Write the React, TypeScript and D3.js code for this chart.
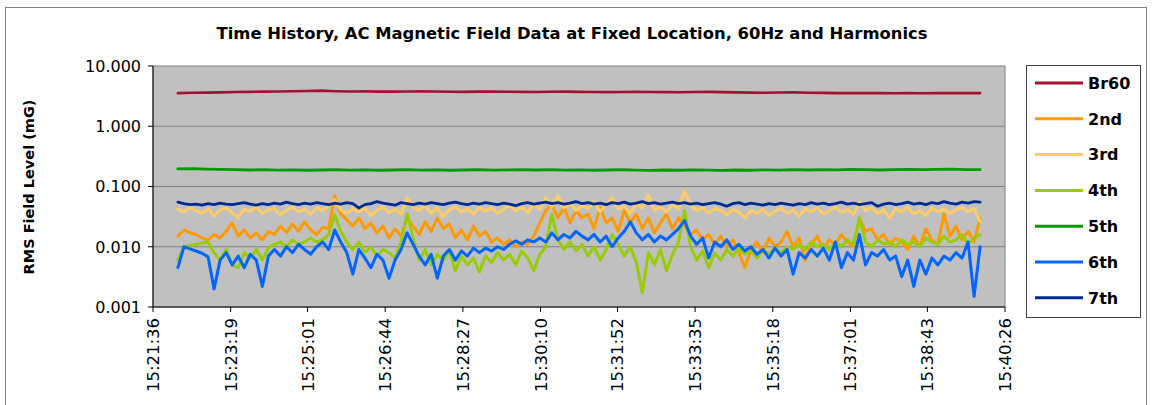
import React from "react";
import * as d3 from "d3";

const chartTitle = "Time History, AC Magnetic Field Data at Fixed Location, 60Hz and Harmonics";
const yAxisTitle = "RMS Field Level (mG)";
const yTickValues = [0.001, 0.01, 0.1, 1, 10];
const gridValues = [0.01, 0.1, 1];
const xTickLabels = [
  "15:21:36", "15:23:19", "15:25:01", "15:26:44", "15:28:27", "15:30:10",
  "15:31:52", "15:33:35", "15:35:18", "15:37:01", "15:38:43", "15:40:26",
];

// sampling of the recorded series
const fineStart = "15:22:09";
const fineStepSec = 8;
const coarseStart = "15:22:09";
const coarseStepSec = 19;

const seriesNames = ["Br60", "2nd", "3rd", "4th", "5th", "6th", "7th"];
const seriesColors = ["#A3122F", "#FF9900", "#FFCC66", "#99CC00", "#009900", "#0066FF", "#002A8F"];

// coarse sampled (57 points)
const br60 = [
  3.55, 3.60, 3.62, 3.65, 3.70, 3.72, 3.75, 3.78, 3.80, 3.85,
  3.90, 3.82, 3.78, 3.80, 3.76, 3.75, 3.78, 3.80, 3.77, 3.74,
  3.72, 3.75, 3.78, 3.74, 3.72, 3.70, 3.73, 3.76, 3.72, 3.70,
  3.68, 3.70, 3.72, 3.70, 3.68, 3.66, 3.70, 3.72, 3.68, 3.65,
  3.62, 3.60, 3.63, 3.65, 3.60, 3.58, 3.55, 3.57, 3.54, 3.56,
  3.52, 3.55, 3.53, 3.56, 3.54, 3.57, 3.55,
];
const fifth = [
  0.196, 0.198, 0.195, 0.192, 0.190, 0.188, 0.190, 0.187, 0.189, 0.186,
  0.188, 0.190, 0.187, 0.189, 0.186, 0.188, 0.191, 0.187, 0.189, 0.186,
  0.188, 0.190, 0.187, 0.189, 0.191, 0.188, 0.190, 0.187, 0.189, 0.186,
  0.188, 0.190, 0.187, 0.185, 0.188, 0.186, 0.189, 0.187, 0.185, 0.188,
  0.186, 0.189, 0.187, 0.190, 0.188, 0.191, 0.189, 0.192, 0.190, 0.188,
  0.191, 0.193, 0.190, 0.192, 0.194, 0.191, 0.190,
];

// fine sampled (134 points)
const second = [
  0.015, 0.019, 0.017, 0.016, 0.014, 0.013, 0.016, 0.014, 0.018, 0.025,
  0.015, 0.019, 0.014, 0.017, 0.013, 0.018, 0.016, 0.022, 0.017, 0.024,
  0.018, 0.026, 0.019, 0.016, 0.021, 0.020, 0.070, 0.035, 0.028, 0.022,
  0.030, 0.020, 0.025, 0.017, 0.022, 0.014, 0.020, 0.015, 0.030, 0.022,
  0.016, 0.026, 0.018, 0.030, 0.020, 0.024, 0.014, 0.019, 0.013, 0.022,
  0.015, 0.018, 0.012, 0.014, 0.011, 0.013, 0.010, 0.012, 0.011, 0.015,
  0.025, 0.040, 0.050, 0.030, 0.045, 0.025, 0.040, 0.030, 0.035, 0.020,
  0.045, 0.025, 0.030, 0.018, 0.040, 0.025, 0.035, 0.020, 0.030, 0.017,
  0.025, 0.035, 0.020, 0.030, 0.022, 0.016, 0.019, 0.013, 0.016, 0.011,
  0.015, 0.010, 0.013, 0.008, 0.0045, 0.009, 0.012, 0.008, 0.014, 0.010,
  0.012, 0.018, 0.010, 0.014, 0.006, 0.011, 0.015, 0.009, 0.013, 0.011,
  0.016, 0.012, 0.010, 0.030, 0.018, 0.020, 0.013, 0.016, 0.011, 0.014,
  0.012, 0.009, 0.015, 0.010, 0.020, 0.013, 0.011, 0.035, 0.015, 0.022,
  0.013, 0.018, 0.012, 0.030,
];
const third = [
  0.042, 0.038, 0.045, 0.040, 0.036, 0.043, 0.032, 0.041, 0.044, 0.037,
  0.030, 0.042, 0.039, 0.045, 0.036, 0.041, 0.043, 0.034, 0.040, 0.046,
  0.038, 0.042, 0.035, 0.044, 0.040, 0.047, 0.060, 0.041, 0.036, 0.043,
  0.038, 0.044, 0.033, 0.040, 0.046, 0.037, 0.042, 0.035, 0.065, 0.045,
  0.040, 0.048, 0.036, 0.044, 0.032, 0.041, 0.046, 0.038, 0.043, 0.035,
  0.045, 0.039, 0.044, 0.036, 0.042, 0.048, 0.040, 0.045, 0.037, 0.050,
  0.042, 0.065, 0.046, 0.070, 0.044, 0.052, 0.040, 0.048, 0.043, 0.055,
  0.038, 0.050, 0.065, 0.042, 0.047, 0.036, 0.052, 0.044, 0.072, 0.040,
  0.046, 0.038, 0.050, 0.042, 0.085, 0.048, 0.040, 0.045, 0.036, 0.043,
  0.040, 0.034, 0.042, 0.038, 0.030, 0.040, 0.036, 0.042, 0.033, 0.039,
  0.044, 0.036, 0.041, 0.032, 0.043, 0.038, 0.045, 0.035, 0.040, 0.046,
  0.037, 0.042, 0.034, 0.055, 0.040, 0.044, 0.036, 0.041, 0.030, 0.043,
  0.038, 0.045, 0.035, 0.040, 0.033, 0.044, 0.038, 0.042, 0.036, 0.041,
  0.045, 0.038, 0.043, 0.026,
];
const fourth = [
  0.006, 0.010, 0.0105, 0.011, 0.0115, 0.012, 0.008, 0.006, 0.009, 0.005,
  0.0045, 0.008, 0.0065, 0.009, 0.006, 0.0095, 0.011, 0.012, 0.010, 0.013,
  0.011, 0.012, 0.014, 0.012, 0.013, 0.016, 0.034, 0.018, 0.012, 0.009,
  0.012, 0.008, 0.010, 0.007, 0.009, 0.008, 0.0065, 0.012, 0.035, 0.014,
  0.006, 0.009, 0.005, 0.0075, 0.006, 0.0085, 0.004, 0.007, 0.005, 0.0065,
  0.0038, 0.007, 0.0055, 0.008, 0.006, 0.0075, 0.005, 0.0085, 0.0065, 0.004,
  0.0075, 0.010, 0.035, 0.013, 0.009, 0.012, 0.0085, 0.011, 0.007, 0.010,
  0.006, 0.009, 0.016, 0.011, 0.007, 0.010, 0.0055, 0.0017, 0.008, 0.005,
  0.009, 0.004, 0.0075, 0.012, 0.040, 0.010, 0.006, 0.0085, 0.0045, 0.008,
  0.006, 0.009, 0.007, 0.0095, 0.0075, 0.0085, 0.0065, 0.009, 0.0075, 0.0095,
  0.008, 0.010, 0.009, 0.011, 0.009, 0.012, 0.010, 0.011, 0.009, 0.012,
  0.010, 0.013, 0.011, 0.030, 0.012, 0.010, 0.013, 0.011, 0.012, 0.010,
  0.013, 0.011, 0.012, 0.010, 0.014, 0.012, 0.011, 0.015, 0.012, 0.013,
  0.016, 0.011, 0.014, 0.016,
];
const sixth = [
  0.0045, 0.010, 0.0092, 0.0085, 0.0078, 0.0068, 0.002, 0.006, 0.008, 0.005,
  0.007, 0.0045, 0.0075, 0.006, 0.0022, 0.007, 0.009, 0.007, 0.010, 0.008,
  0.011, 0.009, 0.0075, 0.010, 0.012, 0.009, 0.019, 0.012, 0.008, 0.0035,
  0.009, 0.0065, 0.0045, 0.0075, 0.006, 0.003, 0.006, 0.009, 0.017, 0.011,
  0.007, 0.005, 0.0075, 0.003, 0.007, 0.009, 0.006, 0.0085, 0.007, 0.0095,
  0.008, 0.0095, 0.0085, 0.010, 0.009, 0.011, 0.0125, 0.011, 0.013, 0.012,
  0.014, 0.012, 0.017, 0.013, 0.016, 0.014, 0.018, 0.015, 0.013, 0.016,
  0.012, 0.015, 0.010, 0.014, 0.018, 0.026, 0.017, 0.013, 0.016, 0.012,
  0.015, 0.013, 0.016, 0.020, 0.027, 0.015, 0.011, 0.014, 0.0065, 0.012,
  0.010, 0.013, 0.009, 0.011, 0.0085, 0.010, 0.0075, 0.009, 0.0065, 0.0095,
  0.007, 0.009, 0.0035, 0.008, 0.0065, 0.009, 0.007, 0.0095, 0.006, 0.012,
  0.0045, 0.008, 0.006, 0.016, 0.005, 0.008, 0.007, 0.009, 0.006, 0.007,
  0.0032, 0.006, 0.0022, 0.006, 0.0035, 0.0065, 0.005, 0.007, 0.006, 0.008,
  0.0065, 0.012, 0.0015, 0.010,
];
const seventh = [
  0.055, 0.052, 0.050, 0.051, 0.049, 0.052, 0.050, 0.053, 0.051, 0.050,
  0.052, 0.054, 0.051, 0.049, 0.052, 0.050, 0.053, 0.051, 0.055, 0.052,
  0.050, 0.053, 0.051, 0.054, 0.052, 0.050, 0.053, 0.051, 0.054, 0.052,
  0.044, 0.050, 0.052, 0.056, 0.053, 0.051, 0.049, 0.054, 0.052, 0.050,
  0.053, 0.051, 0.054, 0.052, 0.050, 0.053, 0.055, 0.052, 0.050, 0.053,
  0.051, 0.054, 0.052, 0.050, 0.053, 0.051, 0.048, 0.052, 0.054, 0.051,
  0.053, 0.055, 0.052, 0.054, 0.051, 0.053, 0.056, 0.052, 0.054, 0.051,
  0.053, 0.050, 0.054, 0.052, 0.055, 0.051, 0.053, 0.056, 0.052, 0.054,
  0.051, 0.053, 0.055, 0.052, 0.054, 0.051, 0.053, 0.050, 0.052, 0.054,
  0.051, 0.047, 0.052, 0.054, 0.050, 0.053, 0.051, 0.049, 0.052, 0.050,
  0.053, 0.051, 0.049, 0.052, 0.050, 0.054, 0.051, 0.053, 0.050, 0.052,
  0.055, 0.051, 0.053, 0.050, 0.052, 0.054, 0.047, 0.051, 0.053, 0.050,
  0.052, 0.055, 0.051, 0.053, 0.050, 0.054, 0.052, 0.056, 0.053, 0.051,
  0.055, 0.053, 0.056, 0.055,
];

const toSec = (s: string) => {
  const [h, m, sec] = s.split(":").map(Number);
  return h * 3600 + m * 60 + sec;
};

const FONT = "'DejaVu Sans', Verdana, sans-serif";

export default function App() {
  const W = 1153, H = 405;
  const left = 153, right = 1005, top = 66, bottom = 307;
  const t0 = toSec(xTickLabels[0]);
  const x = d3.scaleLinear()
    .domain([0, toSec(xTickLabels[xTickLabels.length - 1]) - t0])
    .range([left, right]);
  const y = d3.scaleLog().domain([0.001, 10]).range([bottom, top]);

  const fineT0 = toSec(fineStart) - t0;
  const coarseT0 = toSec(coarseStart) - t0;
  const mk = (vals: number[], start: number, step: number) =>
    vals.map((v, i) => [start + i * step, v] as [number, number]);

  const seriesData = [
    mk(br60, coarseT0, coarseStepSec),
    mk(second, fineT0, fineStepSec),
    mk(third, fineT0, fineStepSec),
    mk(fourth, fineT0, fineStepSec),
    mk(fifth, coarseT0, coarseStepSec),
    mk(sixth, fineT0, fineStepSec),
    mk(seventh, fineT0, fineStepSec),
  ];
  const seriesWidths = [2.6, 3, 3, 3, 2.8, 3, 2.8];
  const line = d3.line<[number, number]>().x((d) => x(d[0])).y((d) => y(d[1]));
  const fmt = d3.format(".3f");

  const legX = 1026, legY = 65, legW = 114, legH = 252;
  const legRowY = (i: number) => 83 + i * 35.8;

  return (
    <svg width={W} height={H} style={{ position: "absolute", left: 0, top: 0 }}
      xmlns="http://www.w3.org/2000/svg">
      <rect x={0} y={0} width={W} height={H} fill="#ffffff" />
      <rect x={5.5} y={7.5} width={1141} height={430} fill="none" stroke="#808080" strokeWidth={1} />
      <text x={572} y={39} textAnchor="middle" fontFamily={FONT} fontWeight="bold" fontSize={16.4} fill="#000">
        {chartTitle}
      </text>

      <rect x={left} y={top} width={right - left} height={bottom - top} fill="#C0C0C0" stroke="#808080" />
      {gridValues.map((g) => (
        <line key={g} x1={left} x2={right} y1={y(g)} y2={y(g)} stroke="#808080" strokeWidth={1} />
      ))}

      {seriesData.map((d, i) => (
        <path key={seriesNames[i]} d={line(d) || ""} fill="none" stroke={seriesColors[i]}
          strokeWidth={seriesWidths[i]} strokeLinejoin="round" strokeLinecap="round" />
      ))}

      {/* Y axis */}
      <line x1={left} x2={left} y1={top} y2={bottom} stroke="#000" strokeWidth={1} />
      {yTickValues.map((v) => (
        <g key={v}>
          <line x1={left - 5} x2={left} y1={y(v)} y2={y(v)} stroke="#000" />
          <text x={left - 12} y={y(v)} dy="0.36em" textAnchor="end" fontFamily={FONT} fontSize={16} fill="#000">
            {fmt(v)}
          </text>
        </g>
      ))}
      <text transform={`translate(34,187) rotate(-90)`} textAnchor="middle" fontFamily={FONT}
        fontWeight="bold" fontSize={14.5} fill="#000">
        {yAxisTitle}
      </text>

      {/* X axis */}
      <line x1={left} x2={right} y1={bottom} y2={bottom} stroke="#000" strokeWidth={1} />
      {xTickLabels.map((lab) => {
        const px = x(toSec(lab) - t0);
        return (
          <g key={lab}>
            <line x1={px} x2={px} y1={bottom} y2={bottom + 5} stroke="#000" />
            <text transform={`translate(${px},${bottom + 11}) rotate(-90)`} dy="0.36em" textAnchor="end"
              fontFamily={FONT} fontSize={16.5} fill="#000">
              {lab}
            </text>
          </g>
        );
      })}

      {/* Legend */}
      <rect x={legX + 0.5} y={legY + 0.5} width={legW} height={legH} fill="#ffffff" stroke="#404040" />
      {seriesNames.map((n, i) => (
        <g key={n}>
          <line x1={1035} x2={1083} y1={legRowY(i)} y2={legRowY(i)} stroke={seriesColors[i]} strokeWidth={3} />
          <text x={1088} y={legRowY(i)} dy="0.36em" fontFamily={FONT} fontWeight="bold" fontSize={16} fill="#000">
            {n}
          </text>
        </g>
      ))}
    </svg>
  );
}
